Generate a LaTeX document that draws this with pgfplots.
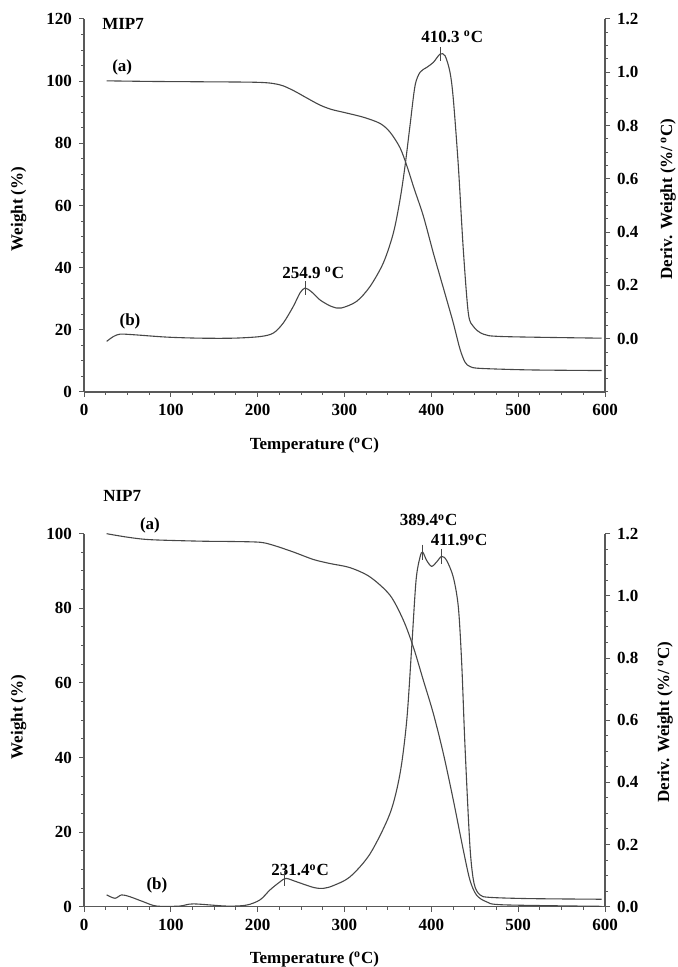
\documentclass[border=0pt]{standalone}
\usepackage{pgfplots}
\pgfplotsset{compat=1.18}
\usepackage{fontspec}
\setmainfont{Liberation Serif}
\definecolor{ln}{gray}{0.28}
\definecolor{ax}{gray}{0.35}
\begin{document}
\begin{tikzpicture}
\pgfplotsset{
  base/.style={
    scale only axis, width=260.5pt, height=186.5pt,
    xmin=0, xmax=600, clip=false,
    tick align=outside,
    major tick length=2.5pt, minor tick length=1.5pt,
    every tick/.style={ax, line width=0.5pt},
    axis line style={ax, line width=0.6pt, -},
    tick label style={font=\fontsize{8.5}{10}\selectfont\bfseries},
    /pgf/number format/assume math mode=true,
  },
  leftax/.style={base, axis x line*=bottom, axis y line*=left,
    xtick={0,100,...,600}, minor x tick num=3, minor y tick num=3},
  rightax/.style={base, axis x line=none, axis y line*=right,
    ytick={0,0.2,...,1.2}, minor ytick={-0.2,-0.15,...,1.2},
    yticklabel style={/pgf/number format/.cd, fixed, fixed zerofill, precision=1}},
}
\tikzset{lab/.style={font=\fontsize{8.5}{10}\selectfont\bfseries, inner sep=0pt},
  curve/.style={ln, line width=0.55pt, smooth, mark=none},
  pk/.style={ln, line width=0.55pt, only marks, mark=|}}

% ---------- Top panel (MIP7) ----------
\begin{axis}[leftax, at={(42pt,287.5pt)}, anchor=south west, ymin=0, ymax=120, ytick={0,20,...,120}]
\addplot[curve] coordinates {(26.1,100.1) (80,99.9) (133.6,99.8) (202.7,99.6) (225.7,98.8) (241,97.0) (256.5,94.6) (271.8,92.3) (285,90.9) (300,89.9) (321.7,88.4) (340.9,86.4) (352.4,83.6) (363.9,78.6) (372,72.6) (380,65.6) (390.8,56.6) (402.3,44.7) (410,37.2) (417.7,29.7) (425.3,22.2) (433,13.8) (438.8,9.6) (444.5,8.2) (456,7.6) (513.6,7.1) (596.2,6.9)};
\node[lab] at (axis cs:45,118.4) {MIP7};
\node[lab] at (axis cs:44,104.5) {(a)};
\node[lab] at (axis cs:53,22.6) {(b)};
\node[lab] at (axis cs:264,38.4) {254.9 \textsuperscript{o}C};
\node[lab] at (axis cs:424,114.2) {410.3 \textsuperscript{o}C};
\end{axis}
\begin{axis}[rightax, at={(42pt,287.5pt)}, anchor=south west, ymin=-0.2, ymax=1.2]
\addplot[curve] coordinates {(26.1,-0.01) (33.8,0.008) (41.5,0.017) (56.8,0.015) (95.2,0.006) (133.6,0.002) (172,0.002) (202.7,0.008) (218,0.021) (229.5,0.059) (241,0.121) (248.8,0.172) (254.6,0.19) (262,0.176) (272,0.145) (285,0.121) (296,0.115) (313.9,0.14) (329.4,0.196) (344.8,0.285) (356.3,0.397) (364,0.523) (369.7,0.648) (375.4,0.799) (381.2,0.949) (387,1.0) (394.6,1.018) (402.3,1.037) (410,1.068) (415.8,1.062) (421.5,1.0) (425.3,0.9) (431.1,0.648) (436.8,0.335) (442.6,0.096) (448.4,0.046) (460,0.017) (483,0.008) (596,0.002)};
\addplot[pk, mark size=3.5pt] coordinates {(254.9,0.19) (410.3,1.068)};
\end{axis}

% ---------- Bottom panel (NIP7) ----------
\begin{axis}[leftax, at={(42pt,30.15pt)}, anchor=south west, ymin=0, ymax=100, ytick={0,20,...,100}]
\addplot[curve] coordinates {(26.1,100) (49.1,99.1) (76,98.4) (133.6,98) (172,97.9) (202.7,97.7) (218,96.9) (241,95.1) (264,93.1) (283.3,92.0) (306.3,90.9) (329.4,88.4) (352.4,83.5) (367.8,76.8) (379.3,69.6) (390.8,60.7) (402.3,51.8) (413.8,41.1) (425.3,28.6) (436.8,15.2) (444.5,7.1) (452.1,3.1) (463.7,1.3) (483,0.5) (596,0.1)};
\node[lab] at (axis cs:44,110.2) {NIP7};
\node[lab] at (axis cs:76,102.3) {(a)};
\node[lab] at (axis cs:84,5.8) {(b)};
\node[lab] at (axis cs:249,9.8) {231.4\textsuperscript{o}C};
\node[lab] at (axis cs:397,103.6) {389.4\textsuperscript{o}C};
\node[lab] at (axis cs:432,98.2) {411.9\textsuperscript{o}C};
\end{axis}
\begin{axis}[rightax, at={(42pt,30.15pt)}, anchor=south west, ymin=0, ymax=1.2]
\addplot[curve] coordinates {(26.1,0.038) (35.7,0.027) (43.4,0.038) (53,0.032) (68.3,0.016) (83.6,0.002) (110,0.002) (125.9,0.009) (164,0.002) (187,0.005) (202.7,0.022) (214.2,0.054) (225.7,0.08) (232.6,0.091) (245,0.08) (264.2,0.062) (275.7,0.059) (287.2,0.068) (306.3,0.096) (329.4,0.17) (352.4,0.3) (364,0.429) (371.7,0.6) (377.4,0.835) (382.4,1.05) (387,1.125) (390,1.141) (394.6,1.114) (400.3,1.095) (406.1,1.109) (411.9,1.127) (417.6,1.114) (425.3,1.06) (431.1,0.964) (435,0.782) (438.8,0.514) (444.5,0.193) (449.2,0.075) (456,0.038) (467.5,0.03) (513.6,0.026) (596,0.024)};
\addplot[pk, mark size=3.75pt] coordinates {(389.4,1.141) (411.9,1.127) (231.4,0.091)};
\end{axis}

% ---------- axis titles ----------
\node[lab, rotate=90] at (9.25pt,379pt) {Weight (\%)};
\node[lab, rotate=90] at (334pt,384pt) {Deriv. Weight (\%/\,\textsuperscript{o}C)};
\node[lab] at (157.25pt,261pt) {Temperature (\textsuperscript{o}C)};
\node[lab, rotate=90] at (9.25pt,125pt) {Weight (\%)};
\node[lab, rotate=90] at (332.5pt,122.5pt) {Deriv. Weight (\%/\,\textsuperscript{o}C)};
\node[lab] at (157.25pt,3.8pt) {Temperature (\textsuperscript{o}C)};
\pgfresetboundingbox
\useasboundingbox (0pt,0pt) rectangle (338.5pt,483.5pt);
\end{tikzpicture}
\end{document}
